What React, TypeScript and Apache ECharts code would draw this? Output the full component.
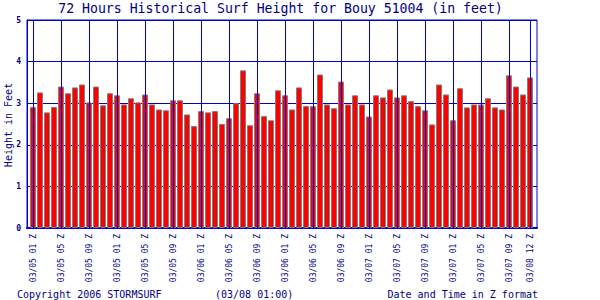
import React, { useEffect, useRef } from "react";
import * as echarts from "echarts";

const heights = [
  2.91, 3.26, 2.78, 2.91, 3.4, 3.24, 3.38, 3.45, 3.02, 3.4,
  2.95, 3.24, 3.19, 2.97, 3.12, 3.02, 3.21, 2.97, 2.85, 2.83,
  3.07, 3.07, 2.73, 2.45, 2.81, 2.78, 2.81, 2.5, 2.64, 3.0,
  3.79, 2.47, 3.24, 2.69, 2.59, 3.31, 3.19, 2.85, 3.38, 2.93,
  2.93, 3.69, 2.97, 2.88, 3.52, 2.97, 3.19, 2.97, 2.68, 3.19,
  3.14, 3.33, 3.14, 3.19, 3.05, 2.93, 2.83, 2.49, 3.45, 3.21,
  2.59, 3.36, 2.9, 2.97, 2.97, 3.12, 2.9, 2.85, 3.67, 3.4,
  3.21, 3.62,
];

const tickLabels = [
  "03/05 01 Z", "03/05 05 Z", "03/05 09 Z", "03/05 01 Z", "03/05 05 Z", "03/05 09 Z",
  "03/06 01 Z", "03/06 05 Z", "03/06 09 Z", "03/06 01 Z", "03/06 05 Z", "03/06 09 Z",
  "03/07 01 Z", "03/07 05 Z", "03/07 09 Z", "03/07 01 Z", "03/07 05 Z", "03/07 09 Z",
  "03/08 12 Z",
];
const tickHours = [0, 4, 8, 12, 16, 20, 24, 28, 32, 36, 40, 44, 48, 52, 56, 60, 64, 68, 71];

const titleText = "72 Hours Historical Surf Height for Bouy 51004 (in feet)";
const yAxisName = "Height in Feet";
const copyrightText = "Copyright 2006 STORMSURF";
const stampText = "(03/08 01:00)";
const xAxisTitle = "Date and Time in Z format";

const MONO = "'DejaVu Sans Mono', 'Liberation Mono', monospace";
const NAVY = "#000080";
const LINE = "#0000cc";

export default function App() {
  const ref = useRef<HTMLDivElement>(null);
  useEffect(() => {
    if (!ref.current) return;
    const chart = echarts.init(ref.current, null, { renderer: "svg" });
    const isTick = (i: number) => tickHours.indexOf(i) >= 0;
    chart.setOption({
      animation: false,
      backgroundColor: "#ffffff",
      grid: [
        {
          left: 27, right: 63, top: 20, bottom: 72,
          containLabel: false, outerBoundsMode: "none",
          show: true, borderColor: LINE, borderWidth: 1,
        },
        { left: 33, right: 70, top: 20, bottom: 72, containLabel: false, outerBoundsMode: "none" },
      ],
      xAxis: [
        {
          type: "value",
          gridIndex: 0,
          min: 0,
          max: 1,
          axisLine: { show: true, onZero: false, lineStyle: { color: LINE, width: 2 } },
          axisTick: { show: false },
          axisLabel: { show: false },
          splitLine: { show: false },
        },
        {
          type: "category",
          gridIndex: 1,
          boundaryGap: false,
          data: heights.map((_, i) => String(i)),
          axisLine: { show: false },
          axisTick: { show: false },
          axisLabel: {
            interval: (i: number) => isTick(i),
            formatter: (v: string) => tickLabels[tickHours.indexOf(Number(v))] ?? "",
            rotate: 90,
            margin: 6,
            fontFamily: MONO,
            fontSize: 8,
            color: NAVY,
          },
          splitLine: { show: false },
        },
      ],
      yAxis: [
        {
          type: "value",
          gridIndex: 0,
          min: 0,
          max: 5,
          interval: 1,
          axisLine: { show: true, lineStyle: { color: LINE, width: 1 } },
          axisTick: { show: false },
          axisLabel: { fontFamily: MONO, fontSize: 8, fontWeight: "bold", color: NAVY, margin: 6 },
          splitLine: { show: true, lineStyle: { color: LINE, width: 1 } },
        },
        {
          type: "value",
          gridIndex: 1,
          min: 0,
          max: 5,
          show: false,
          splitLine: { show: false },
        },
      ],
      series: [
        {
          type: "line",
          xAxisIndex: 1,
          yAxisIndex: 1,
          data: [],
          z: 1,
          silent: true,
          markLine: {
            silent: true,
            symbol: ["none", "none"],
            label: { show: false },
            lineStyle: { color: LINE, width: 1, type: "solid" },
            emphasis: { disabled: true },
            data: tickHours.map((h) => ({ xAxis: String(h) })),
          },
        },
        {
          type: "bar",
          xAxisIndex: 1,
          yAxisIndex: 1,
          data: heights,
          barWidth: 6,
          clip: false,
          z: 3,
          itemStyle: { color: "#ff0000", borderColor: "#808080", borderWidth: 1 },
        },
      ],
      graphic: [
        {
          type: "text",
          x: 280.5,
          y: 8,
          style: {
            text: titleText,
            fontFamily: MONO,
            fontSize: 13.2,
            fill: NAVY,
            textAlign: "center",
            textVerticalAlign: "middle",
          },
        },
        {
          type: "text",
          x: 8,
          y: 125,
          rotation: Math.PI / 2,
          style: {
            text: yAxisName,
            fontFamily: MONO,
            fontSize: 10,
            fill: NAVY,
            textAlign: "center",
            textVerticalAlign: "middle",
          },
        },
        {
          type: "text",
          x: 17,
          y: 294,
          style: { text: copyrightText, fontFamily: MONO, fontSize: 10, fill: NAVY, textVerticalAlign: "middle" },
        },
        {
          type: "text",
          x: 215,
          y: 294,
          style: { text: stampText, fontFamily: MONO, fontSize: 10, fill: NAVY, textVerticalAlign: "middle" },
        },
        {
          type: "text",
          x: 538,
          y: 294,
          style: {
            text: xAxisTitle,
            fontFamily: MONO,
            fontSize: 10,
            fill: NAVY,
            textAlign: "right",
            textVerticalAlign: "middle",
          },
        },
      ],
    });
    return () => chart.dispose();
  }, []);
  return <div ref={ref} style={{ width: 600, height: 300, position: "absolute", left: 0, top: 0 }} />;
}
